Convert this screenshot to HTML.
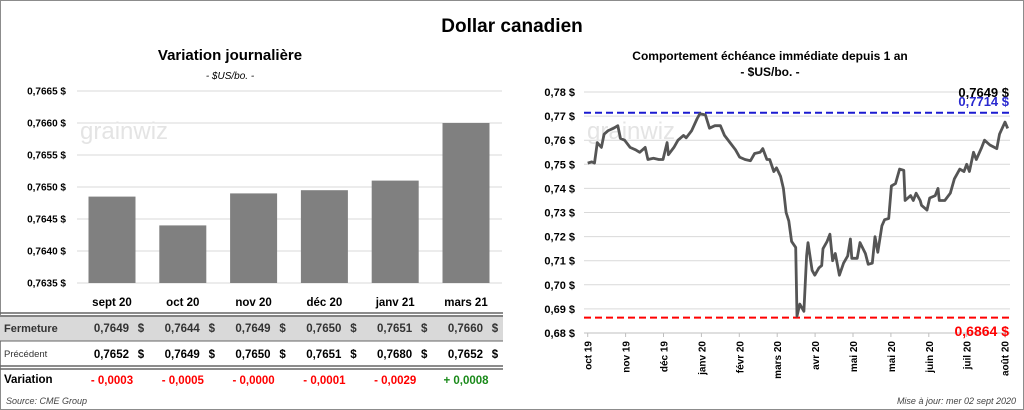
<!DOCTYPE html>
<html><head><meta charset="utf-8"><style>
body{margin:0;background:#fff;font-family:"Liberation Sans",sans-serif;}
#root{position:relative;width:1024px;height:410px;overflow:hidden;}
</style></head><body>
<div id="root">
<svg width="1024" height="410" xmlns="http://www.w3.org/2000/svg" style="position:absolute;left:0;top:0" font-family="Liberation Sans, sans-serif">
<rect x="0.5" y="0.5" width="1023" height="409" fill="#fff" stroke="#8c8c8c"/>
<text x="512" y="32" text-anchor="middle" font-size="19" font-weight="bold">Dollar canadien</text>
<text x="230" y="60" text-anchor="middle" font-size="15" font-weight="bold">Variation  journalière</text>
<text x="230" y="79" text-anchor="middle" font-size="10" font-style="italic">- $US/bo. -</text>
<text x="770" y="60" text-anchor="middle" font-size="12" font-weight="bold">Comportement échéance immédiate depuis 1 an</text>
<text x="770" y="76" text-anchor="middle" font-size="12" font-weight="bold">- $US/bo. -</text>
<g id="left"></g>
<g id="right"></g>
<g id="table"></g>
<text x="6" y="404" font-size="9" font-style="italic" fill="#444">Source: CME Group</text>
<text x="1016" y="404" text-anchor="end" font-size="9" font-style="italic" fill="#444">Mise à jour: mer 02 sept 2020</text>
</svg>
</div>
<script>
const barCats=["sept 20","oct 20","nov 20","déc 20","janv 21","mars 21"];
const barVals=[0.76485,0.7644,0.7649,0.76495,0.7651,0.7660];
const barTicks=[0.7635,0.7640,0.7645,0.7650,0.7655,0.7660,0.7665];
const fermeture=["0,7649","0,7644","0,7649","0,7650","0,7651","0,7660"];
const precedent=["0,7652","0,7649","0,7650","0,7651","0,7680","0,7652"];
const variation=["- 0,0003","- 0,0005","- 0,0000","- 0,0001","- 0,0029","+ 0,0008"];
const lineDays=[0,3,5,7,10,12,15,19,22,24,27,31,35,38,42,44,48,52,55,58,59,63,66,70,72,76,80,82,86,89,93,97,100,104,108,111,115,119,122,126,128,131,133,136,138,141,143,145,147,149,152,153,155,158,160,161,164,166,169,171,172,175,177,179,181,184,187,190,192,193,197,199,203,205,208,210,212,215,217,220,222,225,228,231,232,236,238,240,243,244,248,250,254,256,257,261,265,268,272,275,277,279,282,284,288,290,294,299,301,305,307];
const lineVals=[0.7505,0.751,0.7505,0.759,0.757,0.7625,0.764,0.765,0.766,0.7607,0.760,0.757,0.756,0.755,0.757,0.752,0.7525,0.752,0.752,0.759,0.754,0.757,0.760,0.762,0.761,0.764,0.769,0.771,0.7705,0.765,0.766,0.766,0.762,0.759,0.756,0.753,0.752,0.7515,0.7545,0.755,0.7565,0.752,0.752,0.747,0.7485,0.745,0.740,0.730,0.7265,0.718,0.7155,0.687,0.692,0.689,0.712,0.7175,0.706,0.704,0.707,0.708,0.715,0.718,0.721,0.710,0.713,0.704,0.709,0.712,0.719,0.711,0.711,0.7175,0.713,0.7085,0.709,0.720,0.7135,0.7245,0.727,0.7275,0.741,0.742,0.748,0.7475,0.735,0.737,0.735,0.738,0.735,0.733,0.731,0.736,0.737,0.740,0.735,0.735,0.738,0.744,0.748,0.747,0.750,0.747,0.755,0.752,0.757,0.760,0.758,0.7565,0.7625,0.7675,0.7649];
const lineTicks=[0.68,0.69,0.70,0.71,0.72,0.73,0.74,0.75,0.76,0.77,0.78];
const monthLabels=["oct 19","nov 19","déc 19","janv 20","févr 20","mars 20","avr 20","mai 20","mai 20","juin 20","juil 20","août 20"];
const maxVal=0.7714, minVal=0.6864, lastVal=0.7649;
const NS="http://www.w3.org/2000/svg";
function mk(p,t,a,txt){const e=document.createElementNS(NS,t);for(const k in a)e.setAttribute(k,a[k]);if(txt!==undefined)e.textContent=txt;p.appendChild(e);return e;}
const L=document.getElementById('left');
const ly=v=>91+(0.7665-v)/0.0030*192;
const lx=i=>112+i*70.8;
barTicks.forEach(t=>{
 let g=mk(L,'line',{x1:77,x2:502,y1:ly(t),y2:ly(t),stroke:'#d9d9d9','stroke-width':1});
 
 let tx=mk(L,'text',{x:66,y:ly(t)+3.5,'text-anchor':'end','font-size':10,'font-weight':'bold'},t.toFixed(4).replace('.',',')+' $');
 
});
let wm=mk(L,'text',{x:80,y:139,'font-size':24,fill:'#e4e4e4'},'grainwiz');

barVals.forEach((v,i)=>{
 let r=mk(L,'rect',{x:lx(i)-23.5,y:ly(v),width:47,height:ly(0.7635)-ly(v),fill:'#808080'});
 
});
const T=document.getElementById('table');
mk(T,'rect',{x:0,y:315,width:503,height:26,fill:'#d9d9d9'});
[[313,1.5],[316,1.5],[341,1],[366,1.5],[369,1.5]].forEach(([y,w])=>{mk(T,'line',{x1:0,x2:503,y1:y,y2:y,stroke:'#666','stroke-width':w});});
mk(T,'text',{x:4,y:332,'font-size':11,'font-weight':'bold',fill:'#333'},'Fermeture');
mk(T,'text',{x:4,y:357,'font-size':9.5,fill:'#333'},'Précédent');
mk(T,'text',{x:4,y:383,'font-size':11.5,'font-weight':'bold'},'Variation');
barCats.forEach((c,i)=>{
 let h=mk(T,'text',{x:lx(i),y:306,'text-anchor':'middle','font-size':11.5,'font-weight':'bold'},c);
 
 mk(T,'text',{x:lx(i)+17,y:332,'text-anchor':'end','font-size':11.5,'font-weight':'bold',fill:'#333'},fermeture[i]);
 mk(T,'text',{x:lx(i)+29,y:332,'text-anchor':'middle','font-size':11.5,'font-weight':'bold',fill:'#333'},'$');
 mk(T,'text',{x:lx(i)+17,y:358,'text-anchor':'end','font-size':11.5,'font-weight':'bold'},precedent[i]);
 mk(T,'text',{x:lx(i)+29,y:358,'text-anchor':'middle','font-size':11.5,'font-weight':'bold'},'$');
 mk(T,'text',{x:lx(i),y:384,'text-anchor':'middle','font-size':11.5,'font-weight':'bold',fill:variation[i][0]=='+'?'#1a8a1a':'#ff0000'},variation[i]);
});
const R=document.getElementById('right');
const ry=v=>92+(0.78-v)/0.10*241;
const rx=d=>587.7+d*(1005-587.7)/305;
lineTicks.forEach(t=>{
 let g=mk(R,'line',{x1:584,x2:1010,y1:ry(t),y2:ry(t),stroke:'#d9d9d9','stroke-width':1});
 
 let tx=mk(R,'text',{x:575,y:ry(t)+4,'text-anchor':'end','font-size':11,'font-weight':'bold'},t.toFixed(2).replace('.',',')+' $');
 
});
mk(R,'line',{x1:584,x2:1010,y1:ry(0.68),y2:ry(0.68),stroke:'#bfbfbf'});
let wm2=mk(R,'text',{x:587,y:139,'font-size':24,fill:'#e4e4e4'},'grainwiz');

monthLabels.forEach((m,i)=>{
 const x=587.7+i*37.9;
 mk(R,'line',{x1:x,x2:x,y1:ry(0.68),y2:ry(0.68)+4,stroke:'#bfbfbf'});
 let tx=mk(R,'text',{x:x+4,y:ry(0.68)+8,'text-anchor':'end','font-size':10,'font-weight':'bold',transform:`rotate(-90 ${x+4} ${ry(0.68)+8})`},m);
 
});
let mx=mk(R,'line',{x1:584,x2:1010,y1:ry(maxVal),y2:ry(maxVal),stroke:'#1a1ad0','stroke-width':2,'stroke-dasharray':'7,4'});

let mn=mk(R,'line',{x1:584,x2:1010,y1:ry(minVal),y2:ry(minVal),stroke:'#ff0000','stroke-width':2,'stroke-dasharray':'7,4'});

let pts=lineDays.map((d,i)=>rx(d).toFixed(1)+','+ry(lineVals[i]).toFixed(1)).join(' ');
let pl=mk(R,'polyline',{points:pts,fill:'none',stroke:'#555','stroke-width':2.8,'stroke-linejoin':'round'});

let t1=mk(R,'text',{x:1009,y:97,'text-anchor':'end','font-size':13,'font-weight':'bold'},lastVal.toFixed(4).replace('.',',')+' $');

let t2=mk(R,'text',{x:1009,y:106,'text-anchor':'end','font-size':13,'font-weight':'bold',fill:'#2a2ad0'},maxVal.toFixed(4).replace('.',',')+' $');

let t3=mk(R,'text',{x:1009,y:336,'text-anchor':'end','font-size':14,'font-weight':'bold',fill:'#ff0000'},minVal.toFixed(4).replace('.',',')+' $');

</script>
</body></html>
